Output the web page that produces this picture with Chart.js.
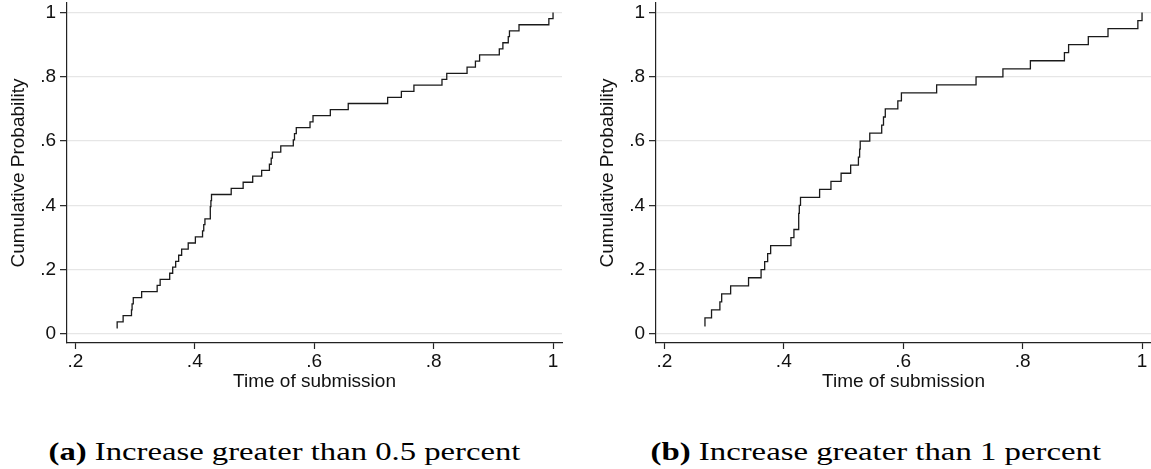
<!DOCTYPE html>
<html>
<head>
<meta charset="utf-8">
<script src="https://cdn.jsdelivr.net/npm/chart.js@4.4.1/dist/chart.umd.min.js"></script>
<style>
  body { margin: 0; background: #fff; width: 1151px; height: 469px; position: relative; overflow: hidden; }
  canvas { position: absolute; top: 0; }
  .caption {
    position: absolute; top: 437px; font-family: "Liberation Serif", serif; font-size: 25px;
    line-height: 30px; white-space: nowrap; color: #000; transform-origin: center;
  }
</style>
</head>
<body>
<canvas id="cdfA" width="575" height="400" style="left:0px"></canvas>
<canvas id="cdfB" width="562" height="400" style="left:589px"></canvas>
<div class="caption" id="capA"><b>(a)</b> Increase greater than 0.5 percent</div>
<div class="caption" id="capB"><b>(b)</b> Increase greater than 1 percent</div>

<script>
// Submission times (sorted) and their cumulative probability, > 0.5 percent
const timesA = [0.269, 0.270, 0.280, 0.294, 0.295, 0.297, 0.311, 0.337, 0.342, 0.358,
  0.363, 0.368, 0.373, 0.378, 0.389, 0.401, 0.413, 0.415, 0.417, 0.426,
  0.426, 0.427, 0.428, 0.461, 0.481, 0.497, 0.512, 0.525, 0.528, 0.530,
  0.544, 0.565, 0.567, 0.570, 0.593, 0.598, 0.627, 0.657, 0.723, 0.746,
  0.767, 0.814, 0.822, 0.856, 0.870, 0.877, 0.910, 0.916, 0.925, 0.927,
  0.943, 0.993, 1.000];
const probsA = [0.019, 0.038, 0.057, 0.075, 0.094, 0.113, 0.132, 0.151, 0.170, 0.189,
  0.208, 0.226, 0.245, 0.264, 0.283, 0.302, 0.321, 0.340, 0.358, 0.377,
  0.396, 0.415, 0.434, 0.453, 0.472, 0.491, 0.509, 0.528, 0.547, 0.566,
  0.585, 0.604, 0.623, 0.642, 0.660, 0.679, 0.698, 0.717, 0.736, 0.755,
  0.774, 0.792, 0.811, 0.830, 0.849, 0.868, 0.887, 0.906, 0.925, 0.943,
  0.962, 0.981, 1.000];

// Same for increases > 1 percent
const timesB = [0.267, 0.268, 0.279, 0.293, 0.296, 0.311, 0.341, 0.362, 0.368, 0.373,
  0.378, 0.412, 0.417, 0.425, 0.425, 0.426, 0.428, 0.460, 0.479, 0.496,
  0.512, 0.525, 0.527, 0.528, 0.544, 0.564, 0.567, 0.570, 0.591, 0.597,
  0.656, 0.722, 0.767, 0.813, 0.870, 0.877, 0.910, 0.943, 0.993, 1.000];
const probsB = [0.025, 0.050, 0.075, 0.100, 0.125, 0.150, 0.175, 0.200, 0.225, 0.250,
  0.275, 0.300, 0.325, 0.350, 0.375, 0.400, 0.425, 0.450, 0.475, 0.500,
  0.525, 0.550, 0.575, 0.600, 0.625, 0.650, 0.675, 0.700, 0.725, 0.750,
  0.775, 0.800, 0.825, 0.850, 0.875, 0.900, 0.925, 0.950, 0.975, 1.000];

const xTicks = [0.2, 0.4, 0.6, 0.8, 1];
const xTickLabels = ['.2', '.4', '.6', '.8', '1'];
const yTicks = [0, 0.2, 0.4, 0.6, 0.8, 1];
const yTickLabels = ['0', '.2', '.4', '.6', '.8', '1'];

const TEXT_COLOR = '#111';
const AXIS_COLOR = '#222';
const FONT = { family: '"Liberation Sans", Arial, sans-serif', size: 19 };

// Step plot of the empirical distribution
function drawCdf(canvasId, times, probs, rightPad) {
  const ctx = document.getElementById(canvasId).getContext('2d');
  return new Chart(ctx, {
    type: 'line',
    data: {
      datasets: [{
        data: times.map((t, i) => ({ x: t, y: probs[i] })),
        borderColor: '#1a1a1a',
        borderWidth: 1.3,
        pointRadius: 0,
        stepped: true,
        fill: false
      }]
    },
    options: {
      responsive: false,
      animation: false,
      layout: { padding: { top: 3, right: rightPad, bottom: 0, left: 0 } },
      plugins: { legend: { display: false }, tooltip: { enabled: false } },
      scales: {
        x: {
          type: 'linear',
          min: 0.186,
          max: 1.015,
          afterBuildTicks: s => { s.ticks = xTicks.map(v => ({ value: v })); },
          afterFit: s => { s.height = 57; s.paddingLeft = 0; s.paddingRight = 0; },
          ticks: {
            callback: (v, i) => xTickLabels[i],
            color: TEXT_COLOR, font: FONT, padding: 1, maxRotation: 0, autoSkip: false
          },
          grid: { drawOnChartArea: false, tickLength: 6, tickColor: AXIS_COLOR, tickWidth: 1.2 },
          border: { color: AXIS_COLOR, width: 1.2 },
          title: {
            display: true, text: 'Time of submission', color: TEXT_COLOR, font: FONT,
            padding: { top: 0, bottom: 7 }
          }
        },
        y: {
          type: 'linear',
          min: -0.028,
          max: 1.0296,
          afterBuildTicks: s => { s.ticks = yTicks.map(v => ({ value: v })); },
          afterFit: s => { s.width = 67; s.paddingTop = 0; s.paddingBottom = 0; },
          ticks: {
            callback: (v, i) => yTickLabels[i],
            color: TEXT_COLOR, font: FONT, padding: 4, autoSkip: false
          },
          grid: { color: '#e6e6e6', lineWidth: 1.3, tickLength: 7, tickColor: AXIS_COLOR, tickWidth: 1.2 },
          border: { color: AXIS_COLOR, width: 1.2 },
          title: {
            display: true, text: 'Cumulative Probability', color: TEXT_COLOR, font: FONT,
            padding: { top: 7.6, bottom: 0 }
          }
        }
      }
    }
  });
}

drawCdf('cdfA', timesA, probsA, 13);
drawCdf('cdfB', timesB, probsB, 0);

// Captions: centred under each panel, stretched to the set width
function placeCaption(id, center, width) {
  const el = document.getElementById(id);
  const w = el.offsetWidth;
  el.style.left = (center - w / 2) + 'px';
  el.style.transform = `scaleX(${width / w})`;
}
placeCaption('capA', 284, 472);
placeCaption('capB', 875.5, 451);
</script>
</body>
</html>
